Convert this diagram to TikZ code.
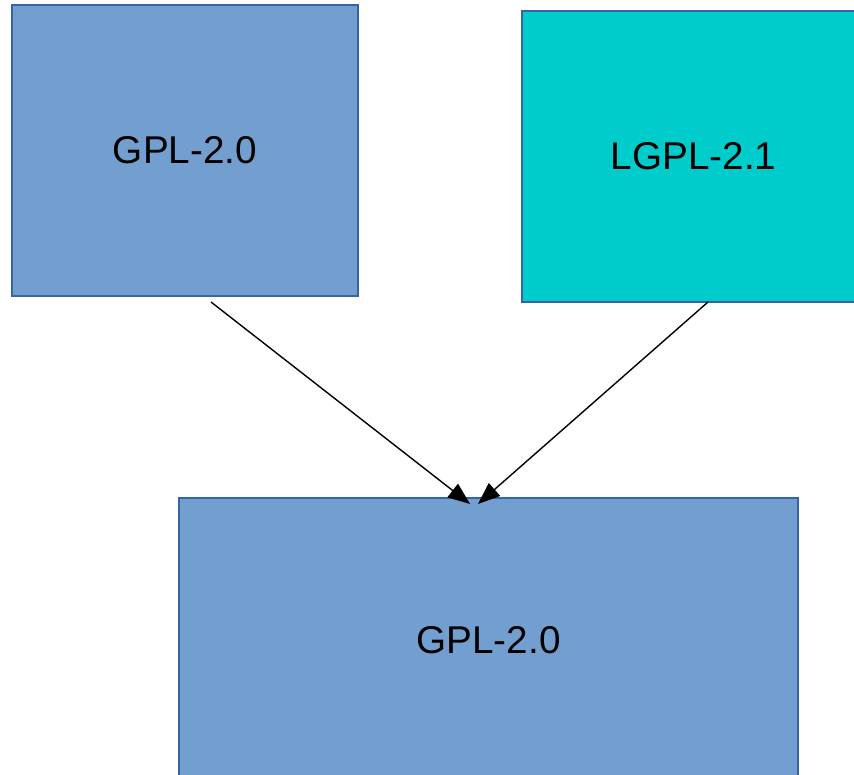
\documentclass[tikz,border=0pt]{standalone}
\usepackage{fontspec}
\setmainfont{Liberation Sans}
\usetikzlibrary{arrows.meta}
\definecolor{boxblue}{HTML}{729FCF}
\definecolor{boxcyan}{HTML}{00CCCC}
\definecolor{edgeblue}{HTML}{3465A4}
\tikzset{
  licbox/.style={draw=edgeblue, line width=1.2pt, inner sep=0pt, rectangle,
    font=\fontsize{38.7}{46}\selectfont, text=black},
  dep/.style={draw=black, line width=1.4pt, -{Triangle[length=22pt,width=17pt]}}
}
\begin{document}
\begin{tikzpicture}[x=1pt,y=-1pt]
\useasboundingbox (0,0) rectangle (854,775);
\node[licbox, fill=boxblue, minimum width=346pt, minimum height=291pt] (gpla) at (185,150.5) {GPL-2.0};
\node[licbox, fill=boxcyan, minimum width=343pt, minimum height=291pt] (lgpl) at (693.5,156.5) {LGPL-2.1};
\node[licbox, fill=boxblue, minimum width=619pt, minimum height=284pt] (gplb) at (488.5,640) {GPL-2.0};
\coordinate (sa) at (211,302);
\coordinate (sb) at (708,302);
\coordinate (ta) at (470,504);
\coordinate (tb) at (478,504);
\draw[dep] (sa) -- (ta);
\draw[dep] (sb) -- (tb);
\end{tikzpicture}
\end{document}
